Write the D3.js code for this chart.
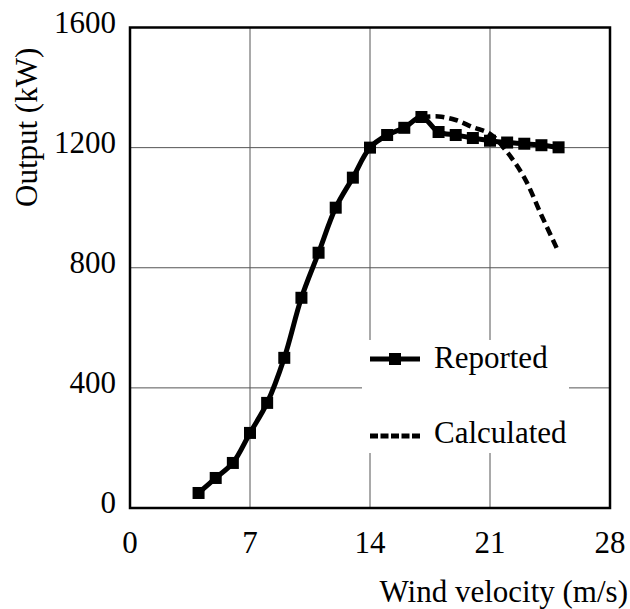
<!DOCTYPE html>
<html>
<head>
<meta charset="utf-8">
<script src="https://cdn.jsdelivr.net/npm/d3@7"></script>
<style>
  body { margin: 0; background: #fff; }
  svg text { font-family: 'Liberation Serif', 'Times New Roman', Tinos, 'DejaVu Serif', serif; fill: #000; }
</style>
</head>
<body>
<svg id="chart" width="630" height="609"></svg>
<script>
// wind speed (m/s) and turbine output (kW)
const reportedX = [4, 5, 6, 7, 8, 9, 10, 11, 12, 13, 14, 15, 16, 17, 18, 19, 20, 21, 22, 23, 24, 25];
const reportedY = [50, 100, 150, 250, 350, 500, 700, 850, 1000, 1100, 1200, 1242, 1266, 1302, 1252, 1242, 1232, 1223, 1217, 1213, 1208, 1201];
const calculatedX = [17, 18, 19, 20, 21, 22, 23, 24, 25];
const calculatedY = [1302, 1304, 1292, 1268, 1246, 1185, 1100, 975, 852];
const xTicks = [0, 7, 14, 21, 28];
const yTicks = [0, 400, 800, 1200, 1600];

const svg = d3.select("#chart")
    .attr("font-family", "'Liberation Serif', 'Times New Roman', serif");
const margin = {left: 130, right: 20, top: 27.5, bottom: 101};
const width = 630, height = 609;
const fs = "31px";

const x = d3.scaleLinear().domain([0, 28]).range([margin.left, width - margin.right]);
const y = d3.scaleLinear().domain([0, 1600]).range([height - margin.bottom, margin.top]);

// grid
svg.append("g").selectAll("line")
    .data(xTicks.slice(1, -1))
    .join("line")
    .attr("x1", d => x(d)).attr("x2", d => x(d))
    .attr("y1", y(1600)).attr("y2", y(0))
    .attr("stroke", "#555").attr("stroke-width", 1);

svg.append("g").selectAll("line")
    .data(yTicks.slice(1, -1))
    .join("line")
    .attr("x1", x(0)).attr("x2", x(28))
    .attr("y1", d => y(d)).attr("y2", d => y(d))
    .attr("stroke", "#555").attr("stroke-width", 1);

// tick labels
svg.append("g").selectAll("text")
    .data(xTicks)
    .join("text")
    .attr("x", d => x(d))
    .attr("y", 553)
    .attr("text-anchor", "middle")
    .style("font-size", fs)
    .text(d => d);

svg.append("g").selectAll("text")
    .data(yTicks)
    .join("text")
    .attr("x", 116)
    .attr("y", d => y(d) + 5)
    .attr("text-anchor", "end")
    .style("font-size", fs)
    .text(d => d);

// axis titles
svg.append("text")
    .attr("x", 628)
    .attr("y", 602)
    .attr("text-anchor", "end")
    .style("font-size", fs)
    .text("Wind velocity (m/s)");

svg.append("text")
    .attr("transform", "rotate(-90)")
    .attr("x", -207)
    .attr("y", 37)
    .attr("text-anchor", "start")
    .style("font-size", fs)
    .text("Output (kW)");

// legend background hides the grid
svg.append("rect")
    .attr("x", 362).attr("y", 340)
    .attr("width", 207).attr("height", 113)
    .attr("fill", "#fff");

// frame
svg.append("rect")
    .attr("x", x(0)).attr("y", y(1600))
    .attr("width", x(28) - x(0)).attr("height", y(0) - y(1600))
    .attr("fill", "none").attr("stroke", "#000").attr("stroke-width", 2.5);

const line = d3.line()
    .x(d => x(d[0]))
    .y(d => y(d[1]))
    .curve(d3.curveCatmullRom);

const reported = reportedX.map((v, i) => [v, reportedY[i]]);
const calculated = calculatedX.map((v, i) => [v, calculatedY[i]]);

svg.append("path")
    .datum(calculated)
    .attr("d", line)
    .attr("fill", "none")
    .attr("stroke", "#000")
    .attr("stroke-width", 4.5)
    .attr("stroke-dasharray", "9,5");

svg.append("path")
    .datum(reported)
    .attr("d", line)
    .attr("fill", "none")
    .attr("stroke", "#000")
    .attr("stroke-width", 5);

const ms = 12;
svg.append("g").selectAll("rect")
    .data(reported)
    .join("rect")
    .attr("x", d => x(d[0]) - ms / 2)
    .attr("y", d => y(d[1]) - ms / 2)
    .attr("width", ms).attr("height", ms)
    .attr("fill", "#000");

// legend
const legend = svg.append("g");
legend.append("line")
    .attr("x1", 370).attr("x2", 420).attr("y1", 359).attr("y2", 359)
    .attr("stroke", "#000").attr("stroke-width", 5);
legend.append("rect")
    .attr("x", 395 - ms / 2).attr("y", 359 - ms / 2)
    .attr("width", ms).attr("height", ms).attr("fill", "#000");
legend.append("text")
    .attr("x", 434).attr("y", 368)
    .style("font-size", fs)
    .text("Reported");

legend.append("line")
    .attr("x1", 370).attr("x2", 420).attr("y1", 436).attr("y2", 436)
    .attr("stroke", "#000").attr("stroke-width", 5)
    .attr("stroke-dasharray", "8,2.5");
legend.append("text")
    .attr("x", 434).attr("y", 443)
    .style("font-size", fs)
    .text("Calculated");
</script>
</body>
</html>
